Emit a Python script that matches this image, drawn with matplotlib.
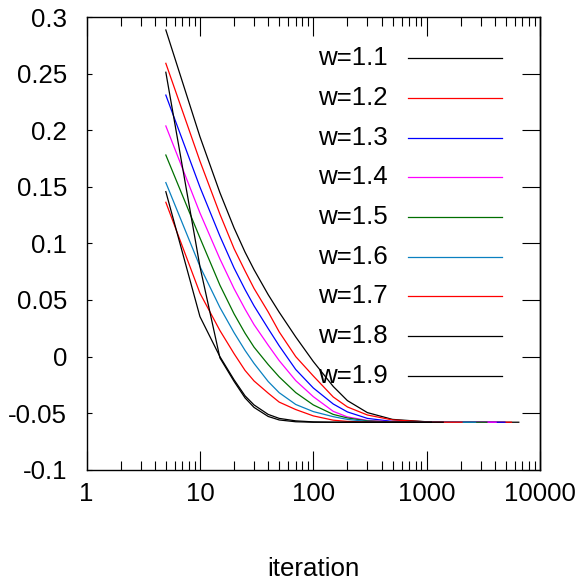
import matplotlib
matplotlib.use('Agg')
import matplotlib.pyplot as plt
from matplotlib.ticker import LogLocator, NullFormatter, FixedLocator, FixedFormatter

plt.rcParams['font.family'] = ['Liberation Sans', 'DejaVu Sans']

# ---- data ----
labels = ['w=1.1', 'w=1.2', 'w=1.3', 'w=1.4', 'w=1.5', 'w=1.6', 'w=1.7', 'w=1.8', 'w=1.9']
colors = ['#000000', '#ff0000', '#0000ff', '#ff00ff', '#006f00', '#0a80c0', '#ff0000', '#000000', '#000000']

it_w11 = [5, 10, 15, 20, 25, 30, 40, 50, 70, 100, 150, 200, 300, 500, 1000, 2000, 6500]
y_w11 = [0.2888, 0.1944, 0.1449, 0.1137, 0.0923, 0.0768, 0.0547, 0.0392, 0.0173, -0.0044,
         -0.0265, -0.0390, -0.0496, -0.0556, -0.0577, -0.0581, -0.0581]

it_w12 = [5, 10, 15, 20, 25, 30, 40, 50, 70, 100, 150, 200, 300, 500, 1000, 2000, 5600]
y_w12 = [0.2593, 0.1728, 0.1259, 0.0954, 0.0757, 0.0602, 0.0394, 0.0218, -0.0001, -0.0172,
         -0.0358, -0.0446, -0.0517, -0.0561, -0.0578, -0.0581, -0.0581]

it_w13 = [5, 10, 15, 20, 25, 30, 40, 50, 70, 100, 150, 200, 300, 500, 1000, 4900]
y_w13 = [0.2312, 0.1498, 0.1065, 0.0783, 0.0592, 0.0448, 0.0247, 0.0095, -0.0115, -0.0278,
         -0.0420, -0.0490, -0.0547, -0.0574, -0.0580, -0.0581]

it_w14 = [5, 10, 15, 20, 25, 30, 40, 50, 70, 100, 150, 200, 300, 500, 1000, 4100]
y_w14 = [0.2039, 0.1270, 0.0863, 0.0600, 0.0419, 0.0282, 0.0100, -0.0036, -0.0213, -0.0355,
         -0.0485, -0.0534, -0.0565, -0.0578, -0.0581, -0.0581]

it_w15 = [5, 10, 15, 20, 25, 30, 40, 50, 70, 100, 150, 200, 300, 500, 1000, 3400]
y_w15 = [0.1782, 0.1049, 0.0631, 0.0377, 0.0206, 0.0083, -0.0071, -0.0180, -0.0319, -0.0428,
         -0.0512, -0.0543, -0.0569, -0.0579, -0.0581, -0.0581]

it_w16 = [5, 10, 15, 20, 25, 30, 40, 50, 70, 100, 150, 200, 300, 500, 2700]
y_w16 = [0.1538, 0.0797, 0.0434, 0.0211, 0.0054, -0.0061, -0.0221, -0.0320, -0.0424, -0.0487,
         -0.0532, -0.0556, -0.0574, -0.0580, -0.0581]

it_w17 = [5, 10, 15, 20, 25, 30, 40, 50, 70, 100, 150, 200, 300, 500, 2050]
y_w17 = [0.1364, 0.0560, 0.0230, 0.0025, -0.0123, -0.0216, -0.0324, -0.0403, -0.0469, -0.0525,
         -0.0563, -0.0574, -0.0580, -0.0581, -0.0581]

it_w18 = [5, 10, 15, 20, 25, 30, 40, 50, 70, 100, 150, 1400]
y_w18 = [0.1458, 0.0353, -0.0001, -0.0206, -0.0348, -0.0428, -0.0512, -0.0547, -0.0569, -0.0578,
         -0.0581, -0.0581]

it_w19 = [5, 10, 15, 20, 25, 30, 40, 50, 70, 100, 1100]
y_w19 = [0.2514, 0.0795, -0.0012, -0.0220, -0.0366, -0.0450, -0.0530, -0.0561, -0.0577, -0.0581,
         -0.0581]

xticks = [1, 10, 100, 1000, 10000]
xticklabels = ['1', '10', '100', '1000', '10000']
yticks = [-0.1, -0.05, 0.0, 0.05, 0.1, 0.15, 0.2, 0.25, 0.3]
yticklabels = ['-0.1', '-0.05', '0', '0.05', '0.1', '0.15', '0.2', '0.25', '0.3']

series_x = [it_w11, it_w12, it_w13, it_w14, it_w15, it_w16, it_w17, it_w18, it_w19]
series_y = [y_w11, y_w12, y_w13, y_w14, y_w15, y_w16, y_w17, y_w18, y_w19]

# ---- figure ----
fs = 18.6
fig = plt.figure(figsize=(5.79, 5.84), dpi=100)
ax = fig.add_axes([0.14957, 0.19589, 0.78308, 0.77449])

for xs, ys, c in zip(series_x, series_y, colors):
    ax.plot(xs, ys, color=c, lw=0.9, solid_joinstyle='round')

ax.set_xscale('log')
ax.set_xlim(1, 10000)
ax.set_ylim(-0.1, 0.3)

ax.xaxis.set_major_locator(FixedLocator(xticks))
ax.xaxis.set_major_formatter(FixedFormatter(xticklabels))
ax.xaxis.set_minor_locator(LogLocator(base=10, subs=range(2, 10), numticks=20))
ax.xaxis.set_minor_formatter(NullFormatter())
ax.yaxis.set_major_locator(FixedLocator(yticks))
ax.yaxis.set_major_formatter(FixedFormatter(yticklabels))

for s in ax.spines.values():
    s.set_linewidth(1.0)
    s.set_color('black')

ax.tick_params(axis='x', which='major', direction='in', top=True, bottom=True,
               length=14, width=0.8, pad=9, labelsize=fs)
ax.tick_params(axis='x', which='minor', direction='in', top=True, bottom=True,
               length=6.5, width=0.8)
ax.tick_params(axis='y', which='major', direction='in', left=True, right=False,
               length=3.3, width=0.8, pad=14, labelsize=fs)

sec = ax.secondary_yaxis('right')
sec.set_yticks(yticks)
sec.tick_params(axis='y', direction='in', length=13, width=0.8, labelright=False)
sec.spines['right'].set_linewidth(1.0)

# legend (gnuplot-style key: text right-aligned, sample line to the right)
for i, (lab, c) in enumerate(zip(labels, colors)):
    py = 58.3 + 39.7 * i
    yf = (469.6 - py) / 452.3
    ax.text((388 - 86.6) / 453.4, yf, lab, transform=ax.transAxes,
            ha='right', va='center', fontsize=fs)
    ax.plot([(408.3 - 86.6) / 453.4, (501.7 - 86.6) / 453.4], [yf, yf],
            transform=ax.transAxes, color=c, lw=0.9)

fig.text(313 / 579, 1 - 569 / 584, 'iteration', ha='center', va='center', fontsize=fs)

fig.savefig('out.png', dpi=100)
